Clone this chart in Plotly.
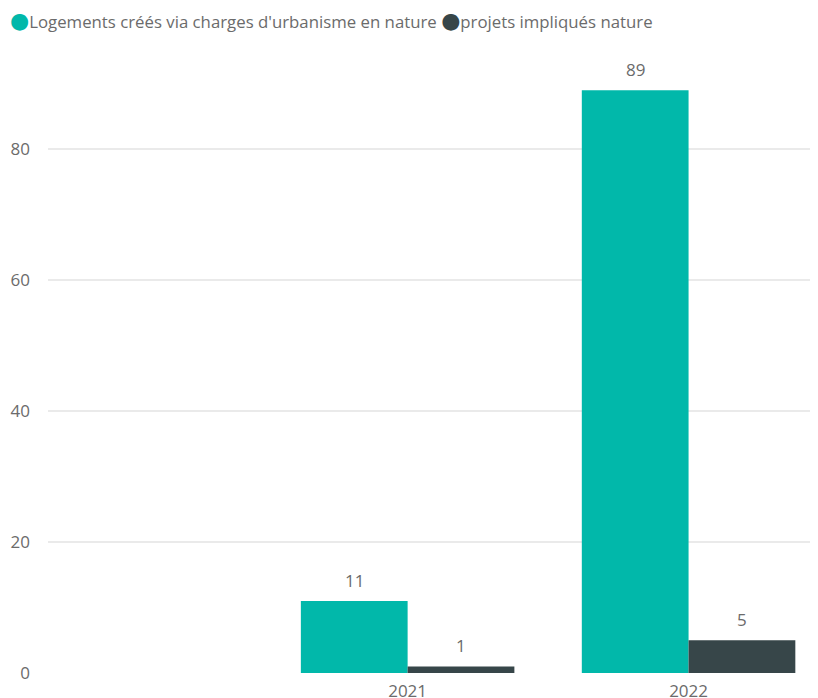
import plotly.graph_objects as go

years = [2021, 2022]
logements = [11, 89]
projets = [1, 5]
series_names = ["Logements créés via charges d'urbanisme en nature", "projets impliqués nature"]
colors = ["#01B8AA", "#374649"]
y_ticks = [0, 20, 40, 60, 80]

font_family = "Segoe UI, Open Sans, DejaVu Sans, sans-serif"
text_color = "#6b6b6b"
bargap = 0.24

fig = go.Figure()
series = [logements, projets]
n = len(series)
group_w = 1 - bargap
for i, (name, vals, col) in enumerate(zip(series_names, series, colors)):
    fig.add_trace(go.Bar(
        x=years, y=vals, name=name, marker=dict(color=col, line=dict(width=0)),
        showlegend=False,
    ))
    # data labels placed over each bar centre (derived from bar layout)
    off = -group_w / 2 + group_w / n * (i + 0.5)
    for yr, v in zip(years, vals):
        fig.add_annotation(
            x=yr + off, y=v, xref="x", yref="y", text=str(v),
            showarrow=False, yanchor="bottom", yshift=7,
            font=dict(size=17, color=text_color, family=font_family),
        )

# custom legend (circle markers close to text, like the reference)
legend_parts = []
for name, col in zip(series_names, colors):
    legend_parts.append(
        f"<span style='color:{col};font-size:22px;font-family:DejaVu Sans'>●</span>{name}"
    )
legend_text = " ".join(legend_parts)
fig.add_annotation(
    text=legend_text, xref="paper", yref="paper", x=0, y=1,
    xshift=-40, yshift=31, xanchor="left", yanchor="middle",
    showarrow=False, font=dict(size=16.8, color=text_color, family=font_family),
)

fig.update_layout(
    width=818, height=698,
    margin=dict(l=40, r=11, t=43, b=33),
    plot_bgcolor="white", paper_bgcolor="white",
    barmode="group", bargap=bargap, bargroupgap=0,
    showlegend=False,
    font=dict(family=font_family, color=text_color, size=17),
    xaxis=dict(
        range=[2019.72, 2022.45], tickvals=years, ticktext=[str(y) for y in years],
        showgrid=False, zeroline=False, showline=False, ticks="",
        ticklabelstandoff=6, automargin=False,
        tickfont=dict(size=17, color=text_color),
    ),
    yaxis=dict(
        range=[0, 95], tickvals=y_ticks, showgrid=True, gridcolor="#EAEAEA",
        gridwidth=1.5, zeroline=False, showline=False, ticks="",
        ticklabelstandoff=17, automargin=False,
        tickfont=dict(size=17, color=text_color),
    ),
)

fig.write_html("out.html")
